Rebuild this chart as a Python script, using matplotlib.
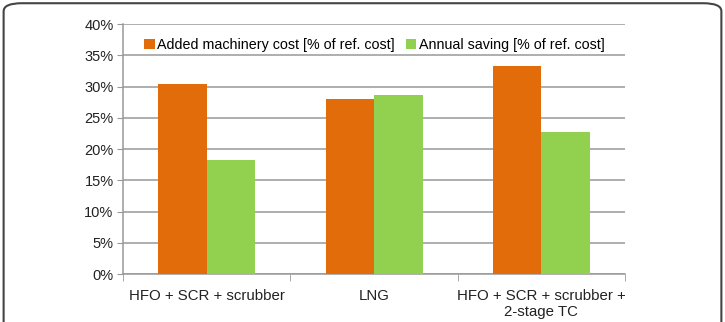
import matplotlib.pyplot as plt
import numpy as np
from matplotlib.patches import FancyBboxPatch

plt.rcParams['font.family'] = ['Liberation Sans', 'DejaVu Sans']

categories = ["HFO + SCR + scrubber", "LNG", "HFO + SCR + scrubber +\n2-stage TC"]
added_cost = [30.4, 28.0, 33.3]
annual_saving = [18.2, 28.7, 22.8]
series_names = ["Added machinery cost [% of ref. cost]", "Annual saving [% of ref. cost]"]
yticks = [0, 5, 10, 15, 20, 25, 30, 35, 40]

fig = plt.figure(figsize=(7.25, 3.22), dpi=100)
ax = fig.add_axes([0.170, 0.149, 0.692, 0.776])

x = np.arange(len(categories))
w = 0.29
ax.bar(x - w / 2, added_cost, w, color="#E36C0A", label=series_names[0], zorder=3)
ax.bar(x + w / 2, annual_saving, w, color="#92D050", label=series_names[1], zorder=3)

ax.set_xlim(-0.5, 2.5)
ax.set_ylim(0, 40)
ax.set_yticks(yticks)
ax.set_yticklabels([f"{v}%" for v in yticks], fontsize=10.5, color="#222222")
ax.set_xticks(x)
ax.set_xticklabels(categories, fontsize=10.8, color="#222222")
ax.set_xticks([-0.5, 0.5, 1.5, 2.5], minor=True)
ax.tick_params(axis="x", which="major", length=0, pad=11)
ax.tick_params(axis="x", which="minor", length=5, color="#999999")
ax.tick_params(axis="y", length=4, color="#999999", pad=3)
ax.yaxis.grid(True, color="#999999", linewidth=1.1, zorder=0)
for s in ["top", "right"]:
    ax.spines[s].set_visible(False)
for s in ["left", "bottom"]:
    ax.spines[s].set_color("#999999")
    ax.spines[s].set_linewidth(1.1)

ax.legend(loc="upper center", bbox_to_anchor=(0.5, 0.985), ncol=2, frameon=False,
          fontsize=10.3, handlelength=0.75, handleheight=0.75, handletextpad=0.15,
          columnspacing=0.8, borderaxespad=0.3)

border = FancyBboxPatch((0.005, -0.1), 0.99, 1.09, transform=fig.transFigure,
                        boxstyle="round,pad=0,rounding_size=0.025",
                        fill=False, edgecolor="#444444", linewidth=1.5)
fig.patches.append(border)

fig.savefig("out.png", dpi=100)
